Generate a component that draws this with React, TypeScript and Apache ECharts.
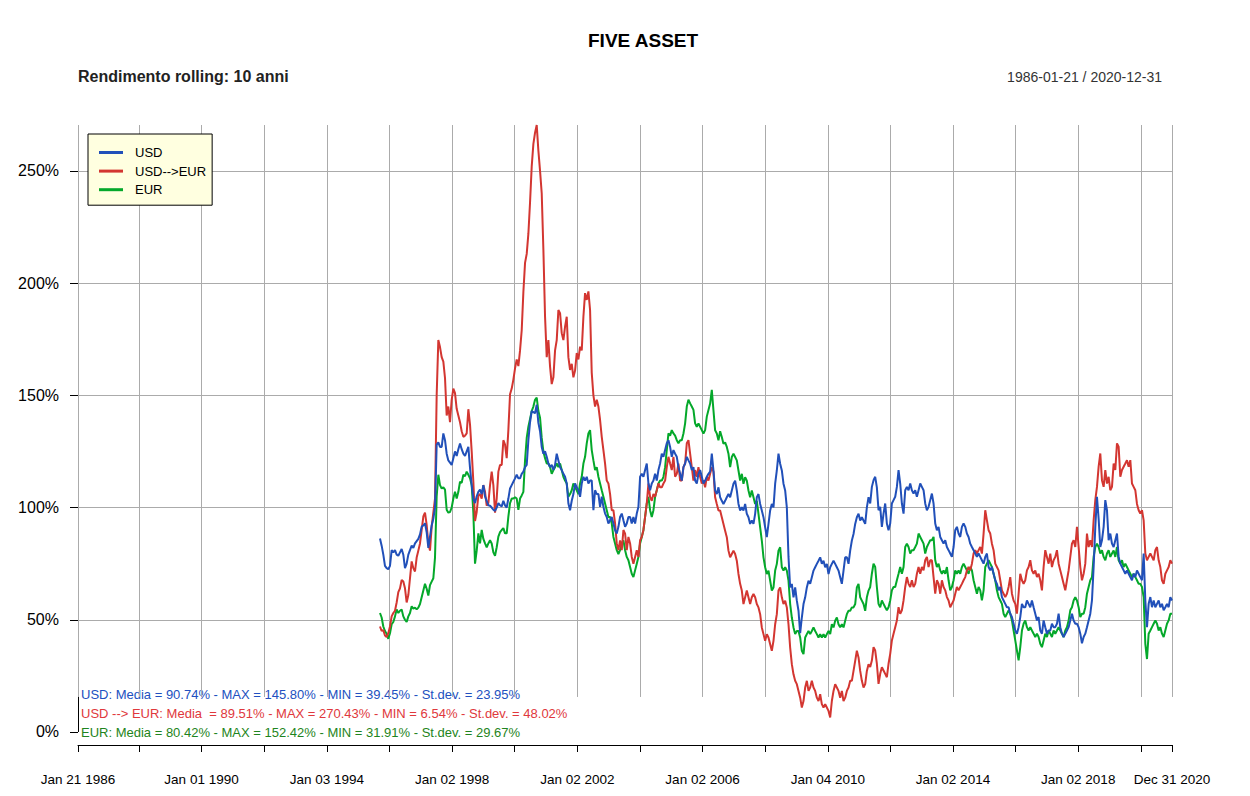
import React, { useEffect, useRef } from 'react';
import * as echarts from 'echarts';

const FONT = '"Liberation Sans", Arial, Helvetica, sans-serif';

// ---- axis / calendar data ----
const axisStart = '1986-01-21';
const axisEnd = '2020-12-31';
const seriesStart = '1995-09-14';
const seriesEnd = '2020-12-31';
const gridDates = [
  '1986-01-21', '1988-01-04', '1990-01-01', '1992-01-02', '1994-01-03', '1996-01-02',
  '1998-01-02', '2000-01-03', '2002-01-02', '2004-01-02', '2006-01-02', '2008-01-02',
  '2010-01-04', '2012-01-03', '2014-01-02', '2016-01-04', '2018-01-02', '2020-01-02', '2020-12-31',
];
const labelDates = [
  '1986-01-21', '1990-01-01', '1994-01-03', '1998-01-02', '2002-01-02',
  '2006-01-02', '2010-01-04', '2014-01-02', '2018-01-02', '2020-12-31',
];
const yTicks = [0, 50, 100, 150, 200, 250];
const yMin = -5.8;
const yMax = 270.43;
const gridLowValue = 15.6;

const legendNames = ['USD', 'USD-->EUR', 'EUR'];

// ---- rolling 10y return (%), evenly spaced from seriesStart to seriesEnd ----
const usd = [
  86.2, 83, 79, 74, 73, 72.5, 74, 81, 80, 81,
  79, 78.5, 80, 81.5, 79, 73, 75, 79, 81, 83,
  82, 84, 85, 86, 88, 91.5, 92, 93, 89, 82,
  87, 92, 95, 100, 128, 129, 127, 127, 133, 130,
  124, 121, 120, 119, 122, 125, 123, 126, 128.5, 126,
  124, 123, 125, 127, 117.7, 110, 104, 102, 105, 107,
  108, 106, 110, 105, 103, 101, 100.8, 100, 99, 98.5,
  100, 102, 101, 100.5, 103, 101, 100, 104, 108.5, 110,
  111.5, 113, 114.6, 113, 113, 115, 116, 118, 119, 130,
  138, 143, 142.5, 142, 145.8, 137.7, 134, 127, 124, 125,
  122.6, 119.6, 118, 119, 116.7, 119, 124, 121, 118, 116.7,
  115, 113.7, 110.7, 101.8, 98.8, 103, 106, 110.7, 109, 107.7,
  104.8, 110.7, 113.7, 112, 113.7, 110.7, 112, 112, 98.8, 107.7,
  106, 106, 100.3, 104.8, 100.3, 97.3, 95.8, 92.9, 94.3, 95.8,
  92.9, 89.9, 88.4, 91.4, 95.8, 97.3, 94.3, 91.4, 92.9, 95.8,
  95.8, 92.9, 95.8, 92.9, 97.3, 100.3, 113.7, 115, 113.7, 116.7,
  119.6, 110.7, 107.7, 110.7, 112, 115, 112, 116.7, 119.6, 124,
  122.6, 125.6, 128.6, 130, 127, 122.6, 125.6, 124, 122.6, 118,
  115, 112, 118, 119.6, 122.6, 121, 119.6, 116.7, 118, 112,
  110.7, 115, 116.7, 113.7, 110.7, 112, 113.7, 115,
  116, 124, 116.5, 107.6, 106, 109, 104.6, 103, 101.6, 103,
  104.6, 106, 104.6, 107.6, 110.6, 112, 107.6, 101.6, 98.7, 100.1,
  98.7, 101.6, 97.2, 95.7, 92.7, 94.2, 92.7, 97.2, 104.6, 106,
  101.6, 98.7, 95.7, 91.2, 86.8, 92.7, 98.7, 101.6, 100.1, 110.6,
  116.5, 124, 119.5, 116.5, 110.6, 107.6, 100.1, 78, 64.4, 66,
  60, 64.4, 58.5, 54, 44, 51, 57, 60, 64.4, 67.4,
  66, 68.9, 71.9, 73.4, 74.9, 76.3, 77.8, 74.9, 76.3, 73.4,
  74.9, 70.4, 73.4, 74.9, 76.3, 74.9, 73.4, 71.9, 68.9, 66,
  71.9, 77.8, 77.8, 74.9, 80.8, 85.3, 88.2, 92.7, 95.7, 97.2,
  94.2, 95.7, 94.2, 92.7, 100.1, 104.6,
  101.8, 109.2, 112.2, 113.7, 109, 98.8, 100.3, 91.4, 97.3, 101.8,
  92.9, 89.9, 92.9, 101.8, 103.3, 104.8, 109.2, 116.7, 110.7, 101.8,
  97.3, 107.7, 109.2, 107.7, 110.7, 107.7, 106.2, 107.7, 104.8, 107.7,
  110.7, 109.2, 107.7, 101.8, 98.8, 100.3, 103.3, 106.2, 101.8, 92.9,
  89.9, 91.4, 86.9, 85.4, 83.9, 85.4, 82.4, 81, 79.5, 78,
  82.4, 89.9, 91.4, 88.4, 86.9, 91.4, 92.9, 91.4, 88.4, 86.9,
  83.9, 82.4, 81, 79.5, 78, 79.5, 78, 76.5, 75, 78,
  79.5, 73.5, 72, 73.5, 70.5, 67.6, 66, 63.1, 64.6, 60.1,
  58.6, 57.1, 55.6, 55.6, 52.7, 51.2, 48.2, 45.2, 43.8, 46.7,
  51.2, 57.1, 55.6,
  55.6, 58.6, 57.1, 55.6, 58.6, 55.6, 52.7, 49.7, 51.2, 45.2,
  43.8, 49.7, 46.7, 43.8, 45.2, 45.2, 48.2, 46.7, 46.7, 48.2,
  52.7, 46.7, 43.8, 42.3, 43.8, 45.2, 46.7, 49.7, 52.7, 49.7,
  48.2, 48.2, 46.7, 43.8, 39.5, 42.3, 43.8, 46.7, 49.7, 52.7,
  58.6, 73.5, 91.4, 104.8, 95, 82.4, 85.4, 91.4, 103.3, 98.8,
  85.4, 88.4, 83.9, 82.4, 85.4, 88.4, 78, 75, 73.5, 72,
  70.5, 72, 70.5, 69, 67.6, 70.5, 69, 72, 70.5, 69,
  67.6, 79.5, 58.6, 46.7, 57.1, 60.1, 55.6, 58.6, 55.6, 57.1,
  58.6, 55.6, 57.1, 54.2, 55.6, 57.1, 55.6, 60.1, 58.6,
];

const usdToEur = [
  47, 45, 45.4, 43, 42.3, 44, 47, 51.5, 53, 54,
  57.7, 62.3, 64, 67.7, 67, 64, 57.7, 61, 68.5, 76,
  73, 71.5, 77.7, 80.8, 84, 90, 96, 97.7, 92.3, 84,
  80.8, 91.5, 97.7, 104, 150, 174.6, 171.5, 167, 165, 157.7,
  141, 145, 138, 148, 153, 151, 144, 141, 138, 134,
  131.5, 132, 133, 143.8, 137, 125, 111.5, 94, 98, 105.4,
  106, 104, 110, 107, 100.8, 102, 110, 116, 110, 97.7,
  104, 116, 119, 119, 130, 128, 122, 134.6, 150.5, 153,
  157, 162, 166, 163, 170, 179, 196, 209, 213, 222,
  236, 252, 262, 267, 270.4, 259, 250, 240, 215, 185,
  167, 174.6, 162.8, 155, 158, 170, 174.6, 188, 186.6, 177.7,
  174.6, 180.6, 185, 167, 161.3, 164, 158, 161, 168.8, 166,
  171.7, 170, 185, 195.5, 192.5, 196.3, 188, 160, 150, 145,
  148, 145, 139, 131.5, 125.6, 119.6, 112, 110.7, 106, 98.8,
  98.8, 92.9, 84, 81, 85.4, 81, 90, 88.4, 81, 86.9,
  84, 78, 75, 78, 81, 78, 85.4, 86.9, 90, 95.8,
  101.8, 110.7, 104.8, 103, 106, 104.8, 107.7, 110.7, 109, 109,
  110.7, 112, 118, 122.6, 119.6, 116.7, 122.6, 113.7, 115, 119.6,
  112, 112, 118, 119.6, 128.6, 130, 124, 118, 112, 116.7,
  113.7, 118, 113.7, 110.7, 112, 109, 113.7, 112,
  115, 118, 116, 104.6, 101.6, 98.7, 98.7, 95.7, 92.7, 89.7,
  86.8, 80.8, 77.8, 79.3, 80.8, 79.3, 76.3, 70.4, 66, 63,
  57, 60, 63, 60, 57, 60, 61.5, 60, 57, 55.5,
  52.5, 46.6, 43.6, 40.6, 43.6, 42.1, 39.1, 36.2, 40.6, 48,
  52.5, 63, 64.4, 60, 57, 58.5, 55.5, 48, 37.6, 30.2,
  25.7, 22.8, 21.3, 18.3, 15.3, 10.9, 13.8, 19.8, 22.8, 18.3,
  19.8, 22.8, 19.8, 18.3, 15.3, 13.8, 16.8, 12.4, 10.9, 12.4,
  10.9, 9.4, 6.5, 13.8, 18.3, 21.3, 19.8, 18.3, 15.3, 18.3,
  13.8, 15.3, 18.3, 19.8, 22.8, 22.8, 27.2, 31.7, 36.2, 33.2,
  27.2, 22.8, 19.8, 21.3, 27.2, 30.2,
  28.9, 31.8, 37.8, 36.3, 30.4, 21.4, 25.9, 28.9, 27.4, 25.9,
  24.4, 30.4, 34.8, 40.8, 43.8, 46.7, 49.7, 55.6, 52.7, 54.2,
  58.6, 64.6, 69, 66, 64.6, 67.6, 64.6, 66, 70.5, 73.5,
  70.5, 73.5, 72, 76.5, 78, 73.5, 76.5, 76.5, 69, 61.6,
  67.6, 66, 61.6, 67.6, 64.6, 63.1, 60.1, 58.6, 55.6, 57.1,
  58.6, 61.6, 64.6, 63.1, 64.6, 66, 67.6, 69, 72, 73.5,
  72, 75, 79.5, 81, 79.5, 81, 82.4, 79.5, 88.4, 98.8,
  94.3, 89.9, 88.4, 83.9, 81, 75, 73.5, 72, 67.6, 63.1,
  61.6, 60.1, 61.6, 64.6, 69, 61.6, 58.6, 57.1, 52.7, 61.6,
  70.5, 67.6, 66,
  67.6, 72, 73.5, 76.5, 72, 70.5, 72, 69, 70.5, 67.6,
  63.1, 73.5, 81, 78, 75, 79.5, 73.5, 76.5, 78, 81,
  75, 72, 69, 66, 63.1, 67.6, 72, 78, 83.9, 85.4,
  82.4, 91.4, 82.4, 73.5, 67.6, 70.5, 75, 88.4, 82.4, 85.4,
  82.4, 94.3, 103.3, 109.2, 118.2, 124.1, 112.2, 109.2, 116.7, 110.7,
  113.7, 107.7, 109.2, 119.6, 116.7, 128.6, 127.1, 113.7, 116.7, 118.2,
  119.6, 121.1, 118.2, 121.1, 110.7, 109.2, 107.7, 101.6, 98.8, 97.3,
  98.8, 94.3, 79.5, 76.5, 78, 79.5, 78, 76.5, 81, 82.4,
  76.5, 73.5, 67.6, 66, 70.5, 72, 73.5, 76.5, 75,
];

const eur = [
  53, 51, 47, 45, 43.8, 41.5, 44, 48, 49, 51.5,
  54.6, 53, 54, 54.6, 51.5, 50, 49, 51.5, 53, 56,
  55, 55.4, 54.6, 55.4, 57, 60, 63, 66, 63.8, 60.8,
  65.4, 67, 68.5, 77.7, 105, 114.6, 110, 108.5, 109, 108,
  99, 97.7, 98, 100, 104, 107, 104, 107, 111.5, 111,
  114.6, 114, 116, 114.6, 113, 110, 97.7, 75, 80.8, 88.5,
  84, 90, 86, 84, 82.3, 84, 85.4, 84, 80, 78.5,
  82.3, 87, 89, 90, 90.8, 88.5, 88.5, 96, 102, 104,
  104, 104.6, 104, 99, 104, 105.4, 107, 121, 131, 136,
  139.5, 143, 145, 148, 149, 143, 140, 131, 125, 122,
  119.6, 119.6, 118, 115, 116.7, 118, 119.6, 118, 119.6, 116.7,
  113.7, 112, 110.7, 104.8, 106, 107.7, 110.7, 109, 107.7, 106,
  110.7, 113.7, 119.6, 122.6, 128.6, 133, 134.5, 125.6, 121, 116.7,
  118, 113.7, 110.7, 107.7, 104.8, 101.8, 98.8, 95.8, 95.8, 92.9,
  86.9, 84, 81, 79.3, 81, 84, 85.4, 81, 78, 76.5,
  73.5, 70.5, 69, 72, 75, 78, 84, 86.9, 89.9, 95.8,
  101.8, 104.8, 98.8, 95.8, 98.8, 104.8, 107.7, 110.7, 112, 112,
  113.7, 118, 125.6, 133, 132, 134.5, 133, 132, 130, 128.6,
  130, 130, 133, 137.5, 145, 148, 146.4, 145, 143.5, 137.5,
  136, 137.5, 136, 134.5, 133, 134.5, 140.5, 143.5,
  146.3, 152.4, 143.3, 134.4, 133, 130, 134, 131.4, 128.4, 129,
  127, 124, 118, 122.5, 124, 122.5, 121, 116.5, 112, 115,
  110.6, 113.5, 112, 107.6, 104.6, 107.6, 104.6, 101.6, 103, 97.2,
  91.2, 85.3, 77.8, 73.4, 70.4, 71.9, 67.4, 63, 64.4, 71.9,
  74.9, 80.8, 82.3, 73.4, 71.9, 73.4, 71.9, 67.4, 57, 51,
  46.6, 43.6, 45, 45, 42.1, 36.2, 34.7, 42.1, 43.6, 45,
  43.6, 45, 46.6, 45, 43.6, 42.1, 43.6, 42.1, 43.6, 42.1,
  43.6, 45, 43.6, 48, 46.6, 49.6, 51, 48, 46.6, 48,
  46.6, 49.6, 52.5, 54, 54, 55.5, 55.5, 57, 64.4, 66,
  60, 58.5, 57, 54, 60, 63,
  64.6, 70.5, 75, 73.5, 64.6, 57.1, 55.6, 58.6, 57.1, 55.6,
  54.2, 55.6, 58.6, 63.1, 64.6, 64.6, 67.6, 70.5, 73.5, 70.5,
  73.5, 82.4, 83.9, 82.4, 79.5, 81, 81, 82.4, 83.9, 88.4,
  86.9, 85.4, 83.9, 79.5, 82.4, 83.9, 85.4, 85.4, 86.9, 76.5,
  73.5, 75, 72, 70.5, 72, 70.5, 73.5, 67.6, 63.1, 64.6,
  67.6, 72, 70.5, 72, 70.5, 73.5, 75, 73.5, 72, 70.5,
  73.5, 72, 67.6, 64.6, 61.6, 64.6, 63.1, 58.6, 63.1, 73.5,
  75, 76.5, 75, 73.5, 70.5, 67.6, 63.1, 60.1, 58.6, 57.1,
  52.7, 51.2, 52.7, 54.2, 52.7, 49.7, 45.2, 40.8, 36.3, 31.9,
  37.8, 45.2, 48.2,
  49.7, 46.7, 45.2, 46.7, 45.2, 43.8, 42.3, 43.8, 42.3, 39.3,
  37.8, 40.8, 43.8, 42.3, 45.2, 43.8, 42.3, 45.2, 43.8, 45.2,
  46.7, 45.2, 43.8, 42.3, 45.2, 46.7, 49.7, 54.2, 55.6, 58.6,
  60.1, 58.6, 55.6, 51.2, 52.7, 52.7, 55.6, 61.6, 64.6, 67.6,
  69, 78, 82.4, 83.9, 82.4, 79.5, 81, 78, 76.5, 79.5,
  81, 78, 79.5, 80.9, 78, 82.4, 76.5, 75, 76.5, 73.5,
  75, 73.5, 72, 70.5, 69, 70.5, 69, 67.6, 66, 66,
  64.6, 60.1, 39.3, 32.5, 43.8, 45.2, 46.7, 48.2, 49.7, 48.2,
  45.2, 46.7, 43.8, 42.3, 45.2, 48.2, 49.7, 52.7, 52.7,
];

const statTexts = [
  'USD: Media = 90.74% - MAX = 145.80% - MIN = 39.45% - St.dev. = 23.95%',
  'USD --> EUR: Media  = 89.51% - MAX = 270.43% - MIN = 6.54% - St.dev. = 48.02%',
  'EUR: Media = 80.42% - MAX = 152.42% - MIN = 31.91% - St.dev. = 29.67%',
];

// ---- styling ----
const lineColors: Record<string, string> = { USD: '#2150B9', 'USD-->EUR': '#D33631', EUR: '#04A82A' };
const statColors = ['#2150C0', '#E0383C', '#1E8420'];
const statY = [694, 713, 732];
const MONTHS = ['Jan', 'Feb', 'Mar', 'Apr', 'May', 'Jun', 'Jul', 'Aug', 'Sep', 'Oct', 'Nov', 'Dec'];

const ts = (s: string) => {
  const [y, m, d] = s.split('-').map(Number);
  return Date.UTC(y, m - 1, d);
};
const fmtDate = (v: number) => {
  const d = new Date(v);
  const dd = String(d.getUTCDate()).padStart(2, '0');
  return `${MONTHS[d.getUTCMonth()]} ${dd} ${d.getUTCFullYear()}`;
};
const toPairs = (values: number[]) => {
  const a = ts(seriesStart);
  const b = ts(seriesEnd);
  const n = values.length;
  return values.map((v, i) => [a + ((b - a) * i) / (n - 1), v]);
};

export default function App() {
  const ref = useRef<HTMLDivElement>(null);
  useEffect(() => {
    if (!ref.current) return;
    const chart = echarts.init(ref.current, null, { renderer: 'svg' });
    const tMin = ts(axisStart);
    const tMax = ts(axisEnd);
    const eps = 3600 * 1000;
    const clampT = (t: number) => Math.min(Math.max(t, tMin + eps), tMax - eps);

    const lineSeries = (name: string, values: number[]) => ({
      name,
      type: 'line',
      data: toPairs(values),
      showSymbol: false,
      symbol: 'none',
      color: lineColors[name],
      itemStyle: { color: lineColors[name] },
      lineStyle: { color: lineColors[name], width: 2 },
      emphasis: { disabled: true },
      silent: true,
      z: 3,
    });

    const option: any = {
      animation: false,
      backgroundColor: '#ffffff',
      textStyle: { fontFamily: FONT },
      title: [
        {
          text: 'FIVE ASSET', left: 588, top: 31, padding: 0,
          textStyle: { fontSize: 19, fontWeight: 'bold', color: '#000', fontFamily: FONT },
        },
        {
          text: 'Rendimento rolling: 10 anni', left: 78, top: 68, padding: 0,
          textStyle: { fontSize: 16, fontWeight: 'bold', color: '#222', fontFamily: FONT },
        },
        {
          text: '1986-01-21 / 2020-12-31', right: 88, top: 70, padding: 0,
          textStyle: { fontSize: 14, fontWeight: 'normal', color: '#333', fontFamily: FONT },
        },
      ],
      legend: {
        data: legendNames,
        orient: 'vertical',
        left: 88,
        top: 134,
        backgroundColor: '#FFFFE0',
        borderColor: '#000',
        borderWidth: 1,
        borderRadius: 0,
        padding: [12, 6, 9, 11],
        itemGap: 5.6,
        itemWidth: 24,
        itemHeight: 3,
        icon: 'rect',
        selectedMode: false,
        textStyle: { fontSize: 13, color: '#000', lineHeight: 13, padding: [0, 0, 0, 7], fontFamily: FONT },
      },
      grid: { left: 78, right: 78, top: 125, bottom: 51, containLabel: false, outerBoundsMode: 'none' },
      xAxis: {
        type: 'value',
        min: tMin,
        max: tMax,
        axisLine: { show: true, onZero: false, lineStyle: { color: '#000', width: 1 } },
        axisTick: { show: true, inside: false, length: 7, customValues: gridDates.map(ts), lineStyle: { color: '#000', width: 1 } },
        axisLabel: {
          show: true, customValues: labelDates.map(ts), formatter: (v: number) => fmtDate(v),
          margin: 27, fontSize: 13.5, color: '#000', fontFamily: FONT,
        },
        splitLine: { show: false },
        minorTick: { show: false },
      },
      yAxis: {
        type: 'value',
        min: yMin,
        max: yMax,
        axisLine: { show: false, onZero: false },
        axisTick: { show: true, inside: false, length: 8, customValues: yTicks, lineStyle: { color: '#000', width: 1 } },
        axisLabel: {
          show: true, customValues: yTicks, formatter: (v: number) => `${v}%`,
          margin: 19, fontSize: 16, color: '#000', fontFamily: FONT,
        },
        splitLine: { show: false },
      },
      graphic: statTexts.map((text, i) => ({
        type: 'text',
        x: 81,
        y: statY[i],
        silent: true,
        style: { text, fill: statColors[i], fontSize: 13, fontFamily: FONT, align: 'left', verticalAlign: 'middle' },
      })),
      series: [
        {
          name: '_axis', type: 'line', data: [], silent: true,
          markLine: {
            silent: true, z: 0, symbol: ['none', 'none'], label: { show: false }, emphasis: { disabled: true },
            lineStyle: { color: '#000', width: 1, type: 'solid' },
            data: [[{ coord: [clampT(tMin), yTicks[0]] }, { coord: [clampT(tMin), yTicks[yTicks.length - 1]] }]],
          },
        },
        {
          name: '_grid', type: 'line', data: [], silent: true,
          markLine: {
            silent: true, z: 1, symbol: ['none', 'none'], label: { show: false }, emphasis: { disabled: true },
            lineStyle: { color: '#ABABAB', width: 1, type: 'solid' },
            data: [
              ...yTicks.filter((v) => v > 0).map((v) => ({ yAxis: v })),
              ...gridDates.map((d) => [
                { coord: [clampT(ts(d)), gridLowValue] },
                { coord: [clampT(ts(d)), yMax - 0.01] },
              ]),
            ],
          },
        },
        lineSeries('EUR', eur),
        lineSeries('USD-->EUR', usdToEur),
        lineSeries('USD', usd),
      ],
    };
    chart.setOption(option);
    return () => chart.dispose();
  }, []);

  return (
    <div
      ref={ref}
      style={{ position: 'fixed', left: 0, top: 0, width: 1250, height: 796, background: '#fff' }}
    />
  );
}
